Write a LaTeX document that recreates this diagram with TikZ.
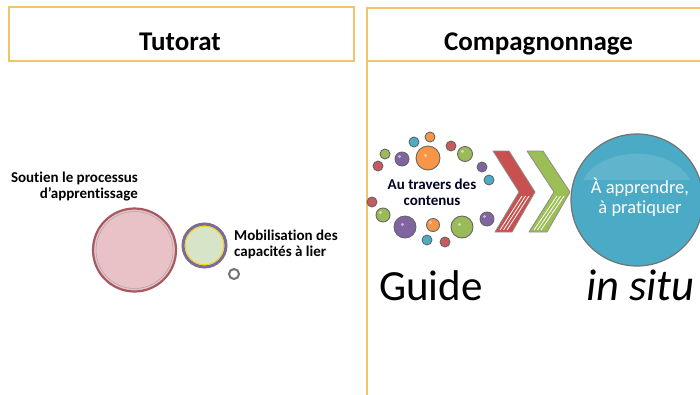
\documentclass[tikz,border=0pt]{standalone}
\usepackage{fontspec}
\setmainfont{Carlito}[Ligatures=NoCommon]
\usetikzlibrary{calc}
\definecolor{frame}{RGB}{242,196,104}
\definecolor{borange}{RGB}{247,150,70}
\definecolor{bcyan}{RGB}{75,172,198}
\definecolor{bred}{RGB}{200,90,95}
\definecolor{bgreen}{RGB}{155,187,89}
\definecolor{bpurple}{RGB}{128,100,162}
\definecolor{pinkfill}{RGB}{232,194,198}
\definecolor{pinkring}{RGB}{168,88,96}
\definecolor{greenfill}{RGB}{216,228,200}
\definecolor{purplering}{RGB}{122,108,150}
\definecolor{teal}{RGB}{75,170,198}
\definecolor{chred}{RGB}{200,80,78}
\definecolor{chgreen}{RGB}{155,190,85}
\tikzset{
  hdr/.style={font=\fontsize{27}{30}\selectfont\bfseries, anchor=base, inner sep=0pt},
  small/.style={font=\fontsize{15}{16}\selectfont\bfseries, text=black, inner sep=0pt},
  bub/.style={circle, draw=black!60, line width=0.9pt, inner sep=0pt},
  chev/.style={draw=black!45, line width=0.8pt, line join=round},
  stripe/.style={white, line width=0.8pt}
}
\begin{document}
\begin{tikzpicture}[x=1pt,y=-1pt]
\useasboundingbox (0,0) rectangle (700,394);
% frames
\draw[frame, line width=1.6pt] (9,7) rectangle (354,61);
\draw[frame, line width=1.6pt] (702,8) -- (367,8) -- (367,396);
\draw[frame, line width=1.6pt] (367,61) -- (702,61);
\node[hdr] (tut) at (180,50) {Tutorat};
\node[hdr] (comp) at (538.5,50) {Compagnonnage};

% left bubbles
\node[circle, draw=pinkring, line width=2.2pt, fill=pinkfill, minimum size=83pt, inner sep=0pt] (big) at (134.5,250) {};
\draw[black!35, line width=0.5pt] (big.center) circle (38.5pt);
\node[circle, draw=purplering, line width=3pt, fill=greenfill, minimum size=43pt, inner sep=0pt] (med) at (204.5,245.5) {};
\draw[yellow!70!orange, line width=0.8pt] (med.center) circle (19.2pt);
\node[circle, draw=black!55, line width=2pt, fill=white, minimum size=10pt, inner sep=0pt] (sm) at (234,274) {};
\node[small, align=right, anchor=north east] (sout) at (138,172) {Soutien le processus\\d'apprentissage};
\node[small, align=left, anchor=west] (mob) at (234,244) {Mobilisation des\\capacités à lier};

% right bubbles
\node[bub, fill=borange, minimum size=10pt] (c1) at (430,137) {};
\node[bub, fill=bcyan, minimum size=10pt] (c2) at (414,142) {};
\node[bub, fill=bred, minimum size=10pt] (c3) at (451,146) {};
\node[bub, fill=bgreen, minimum size=10pt] (c4) at (385,154) {};
\node[bub, fill=bpurple, minimum size=14pt] (c5) at (402,159) {};
\node[bub, fill=borange, minimum size=24pt] (c6) at (428,158) {};
\node[bub, fill=bgreen, minimum size=15pt] (c7) at (465,154) {};
\node[bub, fill=bred, minimum size=10pt] (c8) at (378,166) {};
\node[bub, fill=bpurple, minimum size=10pt] (c9) at (482,167) {};
\node[bub, fill=bcyan, minimum size=10pt] (c10) at (489,180) {};
\node[bub, fill=bred, minimum size=10pt] (c11) at (372,202) {};
\node[bub, fill=bgreen, minimum size=14pt] (c12) at (383,215) {};
\node[bub, fill=bpurple, minimum size=14pt] (c13) at (487,219) {};
\node[bub, fill=bpurple, minimum size=22pt] (c14) at (405,227) {};
\node[bub, fill=borange, minimum size=13pt] (c15) at (433,225) {};
\node[bub, fill=bgreen, minimum size=22pt] (c16) at (462,227) {};
\node[bub, fill=bcyan, minimum size=10pt] (c17) at (427,240) {};
\node[bub, fill=bred, minimum size=10pt] (c18) at (445,242) {};
\foreach \n in {c5,c6,c7,c12,c13,c14,c15,c16}{
  \fill[white, opacity=0.55] ($(\n.center)+(-2.5,-2.5)$) circle (1.6pt);
}
\node[small, align=center, text=black!85!blue] (au) at (432,192) {Au travers des\\contenus};

% chevrons
\draw[chev, fill=chred] (493,151) -- (509,151) -- (535,192) -- (512,232) -- (495,232) -- (519,192) -- cycle;
\foreach \k in {0,1,2}{
  \draw[stripe] ({522+3.5*\k},196) -- ({500+3.5*\k},230);
}
\draw[chev, fill=chgreen] (527,151) -- (543,151) -- (570,192) -- (547,232) -- (529,232) -- (554,192) -- cycle;
\foreach \k in {0,1,2}{
  \draw[stripe] ({557+3.5*\k},196) -- ({534+3.5*\k},230);
}

% teal circle
\node[circle, draw=black!55, line width=1.2pt, fill=teal, minimum size=132pt, inner sep=0pt] (tc) at (637,200) {};
\fill[white, opacity=0.12] (tc.center) ++(-54,-20) arc[start angle=200, end angle=340, x radius=57pt, y radius=-40pt] -- cycle;
\node[font=\fontsize{18.5}{20}\selectfont, text=white, align=center] (app) at (640,197) {À apprendre,\\à pratiquer};

% big words
\node[font=\fontsize{43}{46}\selectfont, anchor=base west, inner sep=0pt] (guide) at (379,300) {Guide};
\node[font=\fontsize{44.5}{46}\selectfont\itshape, anchor=base west, inner sep=0pt] (situ) at (586,300) {in situ};
\end{tikzpicture}
\end{document}
